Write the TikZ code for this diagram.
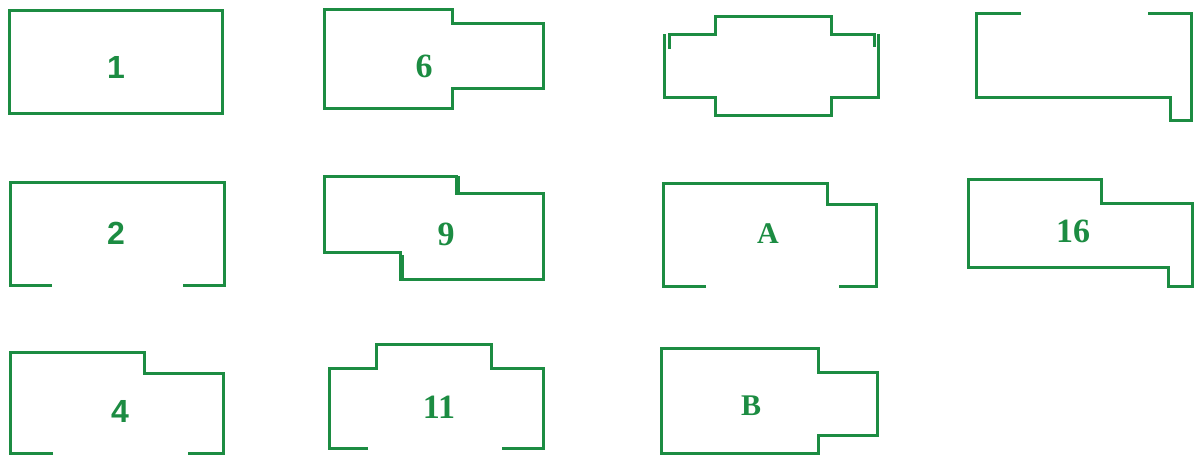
\documentclass[tikz,border=0pt]{standalone}
\usepackage{fontspec}
\setmainfont{Liberation Serif}
\newfontfamily\lsans{Liberation Sans}
\definecolor{plangreen}{RGB}{28,140,66}
\begin{document}
\begin{tikzpicture}[x=0.5pt,y=-0.5pt,
  wall/.style={draw=plangreen,line width=1.5pt,line cap=butt,line join=miter},
  thin/.style={draw=plangreen,line width=1.2pt},
  snum/.style={text=plangreen,font=\lsans\bfseries\fontsize{16}{18}\selectfont,inner sep=0pt},
  rnum/.style={text=plangreen,font=\bfseries\fontsize{17}{19}\selectfont,inner sep=0pt},
  rlet/.style={text=plangreen,font=\bfseries\fontsize{15}{17}\selectfont,inner sep=0pt}]
\useasboundingbox (0,0) rectangle (1197,455);
% Row 1
\draw[wall] (9,10) rectangle (222,113);
\node[snum] (l1) at (116,67) {1};
\draw[wall] (324,9)--(452,9)--(452,23)--(543,23)--(543,88)--(452,88)--(452,108)--(324,108)--cycle;
\node[rnum] (l6) at (424,66) {6};
\draw[wall] (664,34)--(664,97)--(715,97)--(715,115)--(831,115)--(831,97)--(878,97)--(878,34);
\draw[wall] (669,49)--(669,34)--(715,34)--(715,16)--(831,16)--(831,34)--(874,34)--(874,47);
\draw[wall] (1021,13)--(976,13)--(976,97)--(1170,97)--(1170,120)--(1191,120)--(1191,13)--(1148,13);
% Row 2
\draw[wall] (52,285)--(10,285)--(10,182)--(224,182)--(224,285)--(183,285);
\node[snum] (l2) at (116,233) {2};
\draw[wall] (324,176)--(456,176)--(456,193)--(543,193)--(543,279)--(400,279)--(400,252)--(324,252)--cycle;
\draw[thin] (459,176)--(459,193);
\draw[thin] (403,255)--(403,279);
\node[rnum] (l9) at (446,234) {9};
\draw[wall] (706,286)--(663,286)--(663,183)--(827,183)--(827,204)--(876,204)--(876,286)--(839,286);
\node[rlet] (lA) at (768,234) {A};
\draw[wall] (968,179)--(1101,179)--(1101,203)--(1192,203)--(1192,286)--(1168,286)--(1168,267)--(968,267)--cycle;
\node[rnum] (l16) at (1073,231) {16};
% Row 3
\draw[wall] (53,453)--(10,453)--(10,352)--(144,352)--(144,373)--(223,373)--(223,453)--(188,453);
\node[snum] (l4) at (120,411) {4};
\draw[wall] (368,448)--(329,448)--(329,368)--(376,368)--(376,344)--(491,344)--(491,368)--(543,368)--(543,448)--(502,448);
\node[rnum] (l11) at (439,407) {11};
\draw[wall] (661,453)--(661,348)--(818,348)--(818,372)--(877,372)--(877,435)--(818,435)--(818,453)--cycle;
\node[rlet] (lB) at (751,406) {B};
\end{tikzpicture}
\end{document}
